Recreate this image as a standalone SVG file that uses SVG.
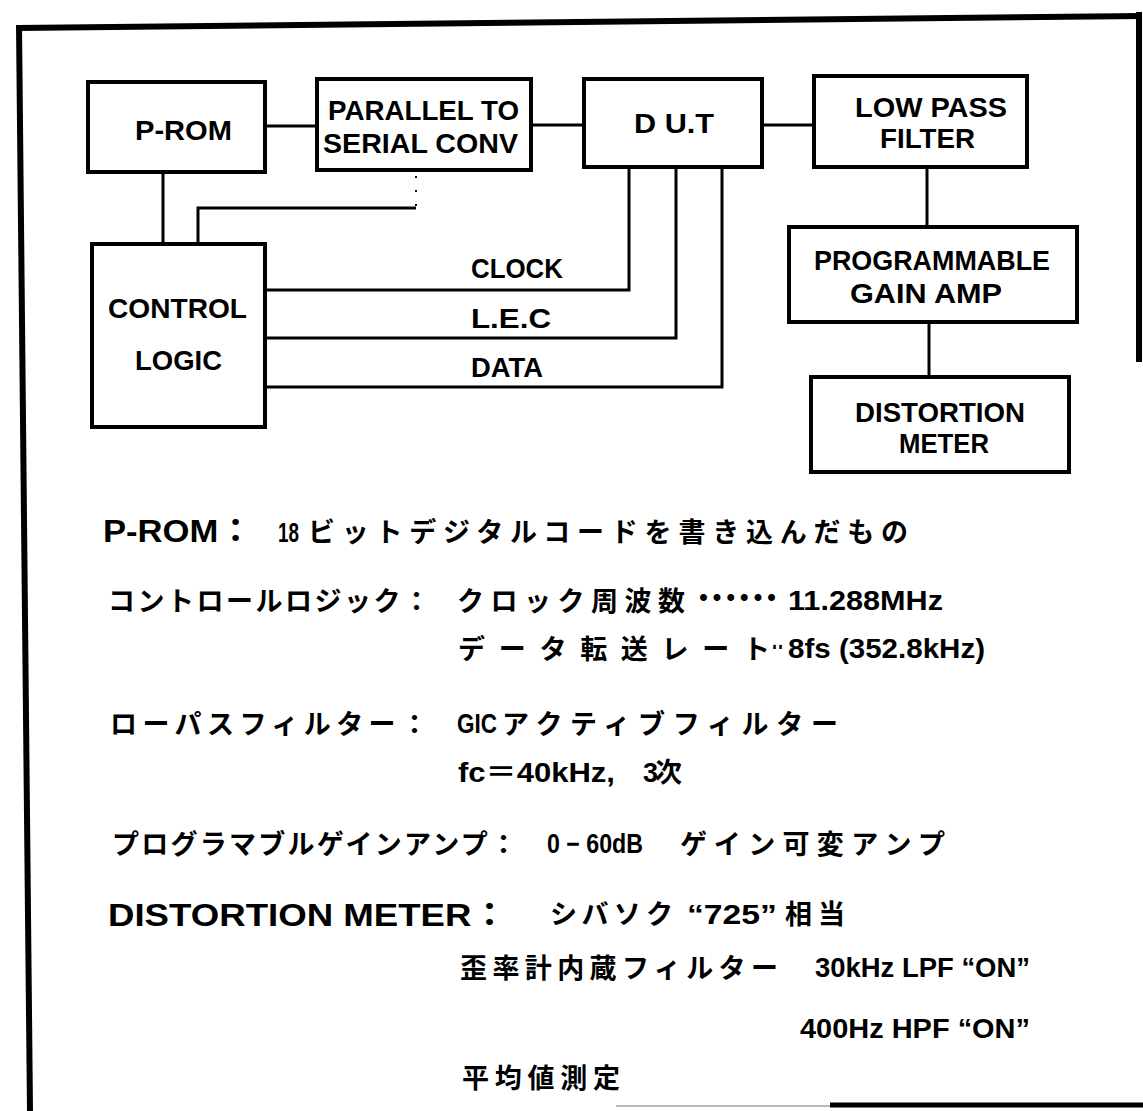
<svg xmlns="http://www.w3.org/2000/svg" width="1143" height="1111" viewBox="0 0 1143 1111">
<style>
.box{fill:none;stroke:#000;stroke-width:4}
.ln{fill:none;stroke:#000;stroke-width:3}
.frame{fill:none;stroke:#000;stroke-width:6}
.lbl{font-family:"Liberation Sans",Arial,sans-serif;font-weight:bold;font-size:28px;fill:#000}
.jp{font-family:"Liberation Sans","Noto Sans CJK JP",sans-serif;font-weight:bold;font-size:27px;fill:#000}
.hd{font-family:"Liberation Sans","Noto Sans CJK JP",sans-serif;font-weight:bold;font-size:32px;fill:#000}
</style>
<rect width="1143" height="1111" fill="#fff"/>
<g id="frame">
<line class="frame" x1="17" y1="28" x2="1142" y2="16"/>
<line class="frame" x1="19" y1="25" x2="30" y2="1111"/>
<line class="frame" x1="1139" y1="12" x2="1139" y2="362"/>
<line x1="616" y1="1106" x2="830" y2="1106" stroke="#bbb" stroke-width="2"/>
<line x1="830" y1="1105" x2="1143" y2="1105" stroke="#000" stroke-width="5"/>
</g>
<g id="connectors">
<line class="ln" x1="265" y1="126" x2="317" y2="126"/>
<line class="ln" x1="531" y1="125" x2="584" y2="125"/>
<line class="ln" x1="762" y1="125" x2="814" y2="125"/>
<line class="ln" x1="927" y1="167" x2="927" y2="227"/>
<line class="ln" x1="929" y1="322" x2="929" y2="377"/>
<line class="ln" x1="163" y1="172" x2="163" y2="244" stroke-width="2"/>
<polyline class="ln" points="198,244 198,208 416,208"/>
<line x1="416" y1="206" x2="416" y2="172" stroke="#000" stroke-width="2" stroke-dasharray="2 12"/>
<polyline class="ln" points="265,290 629,290 629,167"/>
<polyline class="ln" points="265,338 676,338 676,167"/>
<polyline class="ln" points="265,387 722,387 722,167"/>
<text class="lbl" x="471" y="278" textLength="92" lengthAdjust="spacingAndGlyphs">CLOCK</text>
<text class="lbl" x="471" y="328" textLength="80" lengthAdjust="spacingAndGlyphs">L.E.C</text>
<text class="lbl" x="471" y="377" textLength="72" lengthAdjust="spacingAndGlyphs">DATA</text>
</g>
<g id="node-prom">
<rect class="box" x="88" y="82" width="177" height="90"/>
<text class="lbl" x="135" y="140" textLength="97" lengthAdjust="spacingAndGlyphs">P-ROM</text>
</g>
<g id="node-p2s">
<rect class="box" x="317" y="79" width="214" height="91"/>
<text class="lbl" x="328" y="120" textLength="191" lengthAdjust="spacingAndGlyphs">PARALLEL TO</text>
<text class="lbl" x="323" y="153" textLength="195" lengthAdjust="spacingAndGlyphs">SERIAL CONV</text>
</g>
<g id="node-dut">
<rect class="box" x="584" y="79" width="178" height="88"/>
<text class="lbl" x="634" y="133" textLength="80" lengthAdjust="spacingAndGlyphs">D U.T</text>
</g>
<g id="node-lpf">
<rect class="box" x="814" y="76" width="213" height="91"/>
<text class="lbl" x="855" y="117" textLength="152" lengthAdjust="spacingAndGlyphs">LOW PASS</text>
<text class="lbl" x="880" y="148" textLength="95" lengthAdjust="spacingAndGlyphs">FILTER</text>
</g>
<g id="node-pga">
<rect class="box" x="789" y="227" width="288" height="95"/>
<text class="lbl" x="814" y="270" textLength="236" lengthAdjust="spacingAndGlyphs">PROGRAMMABLE</text>
<text class="lbl" x="850" y="303" textLength="152" lengthAdjust="spacingAndGlyphs">GAIN AMP</text>
</g>
<g id="node-dm">
<rect class="box" x="811" y="377" width="258" height="95"/>
<text class="lbl" x="855" y="422" textLength="170" lengthAdjust="spacingAndGlyphs">DISTORTION</text>
<text class="lbl" x="899" y="453" textLength="90" lengthAdjust="spacingAndGlyphs">METER</text>
</g>
<g id="node-ctrl">
<rect class="box" x="92" y="244" width="173" height="183"/>
<text class="lbl" x="108" y="318" textLength="139" lengthAdjust="spacingAndGlyphs">CONTROL</text>
<text class="lbl" x="135" y="370" textLength="87" lengthAdjust="spacingAndGlyphs">LOGIC</text>
</g>
<g id="notes">
<text class="hd" x="103" y="542" textLength="150" lengthAdjust="spacingAndGlyphs">P-ROM：</text>
<text class="jp" x="278" y="542" textLength="21" lengthAdjust="spacingAndGlyphs">18</text>
<text class="jp" x="308" y="542" textLength="600" lengthAdjust="spacing">ビットデジタルコードを書き込んだもの</text>
<text class="jp" x="108" y="611" textLength="322" lengthAdjust="spacing">コントロールロジック：</text>
<text class="jp" x="457" y="611" textLength="228" lengthAdjust="spacing">クロック周波数</text>
<text class="jp" x="690" y="608" textLength="95" lengthAdjust="spacing" font-size="16">・・・・・・</text>
<text class="jp" x="788" y="610" textLength="155" lengthAdjust="spacingAndGlyphs">11.288MHz</text>
<text class="jp" x="458" y="659" textLength="312" lengthAdjust="spacing">データ転送レート</text>
<text class="jp" x="772" y="656" textLength="12" lengthAdjust="spacingAndGlyphs" font-size="18">··</text>
<text class="jp" x="788" y="658" textLength="197" lengthAdjust="spacingAndGlyphs">8fs (352.8kHz)</text>
<text class="jp" x="110" y="734" textLength="318" lengthAdjust="spacing">ローパスフィルター：</text>
<text class="jp" x="457" y="733" textLength="40" lengthAdjust="spacingAndGlyphs">GIC</text>
<text class="jp" x="502" y="734" textLength="336" lengthAdjust="spacing">アクティブフィルター</text>
<text class="jp" x="458" y="782" textLength="157" lengthAdjust="spacingAndGlyphs">fc＝40kHz,</text>
<text class="jp" x="643" y="782" textLength="39" lengthAdjust="spacing">3次</text>
<text class="jp" x="112" y="854" textLength="405" lengthAdjust="spacing">プログラマブルゲインアンプ：</text>
<text class="jp" x="547" y="853" textLength="96" lengthAdjust="spacingAndGlyphs" font-size="24">0 − 60dB</text>
<text class="jp" x="680" y="854" textLength="265" lengthAdjust="spacing">ゲイン可変アンプ</text>
<text class="hd" x="108" y="926" textLength="400" lengthAdjust="spacingAndGlyphs">DISTORTION METER：</text>
<text class="jp" x="550" y="924" textLength="123" lengthAdjust="spacing">シバソク</text>
<text class="jp" x="687" y="924" textLength="90" lengthAdjust="spacingAndGlyphs">“725”</text>
<text class="jp" x="785" y="924" textLength="60" lengthAdjust="spacing">相当</text>
<text class="jp" x="460" y="978" textLength="318" lengthAdjust="spacing">歪率計内蔵フィルター</text>
<text class="jp" x="815" y="977" textLength="215" lengthAdjust="spacingAndGlyphs">30kHz LPF “ON”</text>
<text class="jp" x="800" y="1038" textLength="230" lengthAdjust="spacingAndGlyphs">400Hz  HPF “ON”</text>
<text class="jp" x="462" y="1088" textLength="158" lengthAdjust="spacing">平均値測定</text>
</g>
</svg>
